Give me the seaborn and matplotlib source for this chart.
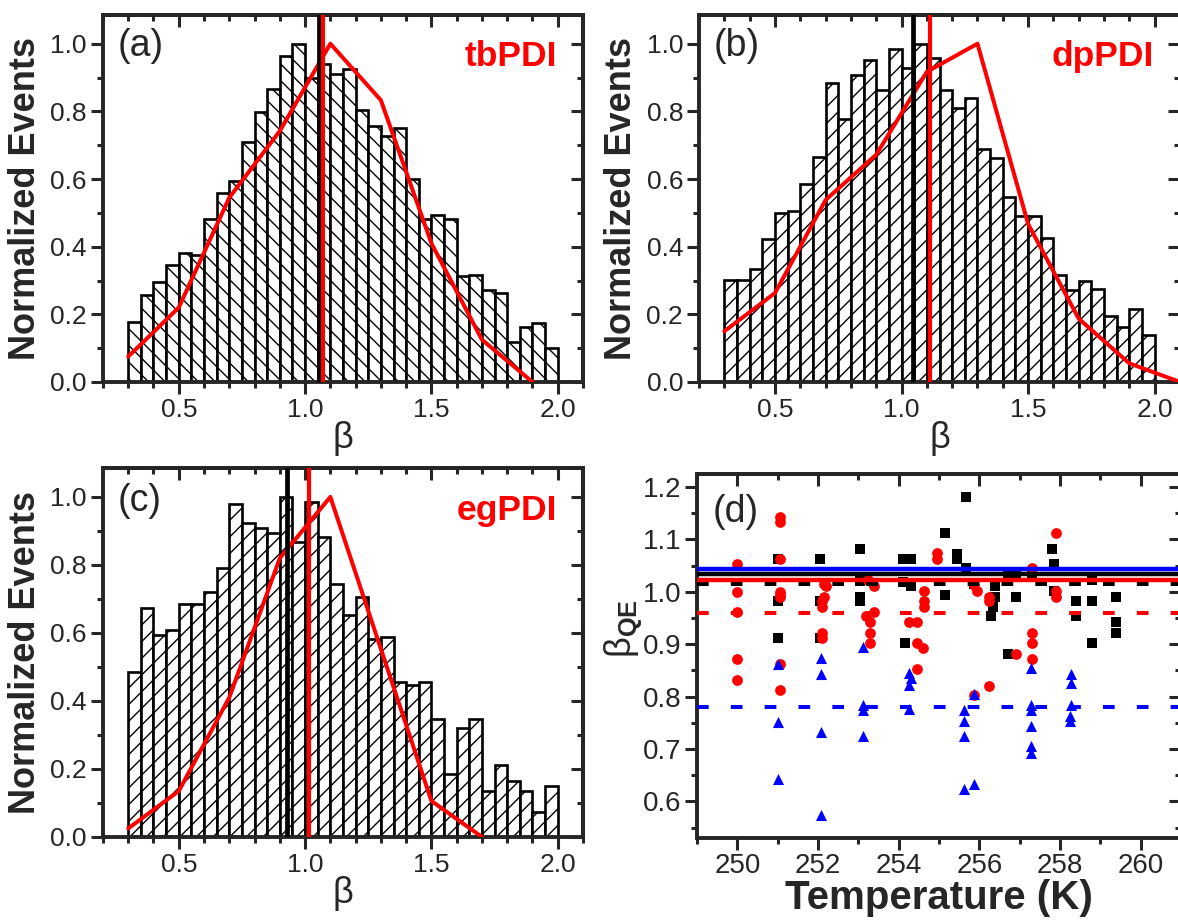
import numpy as np
import pandas as pd
import matplotlib
matplotlib.use("Agg")
import matplotlib.pyplot as plt
from matplotlib.ticker import MultipleLocator
import seaborn as sns

# ---------------- data ----------------
bin_lo, bin_hi, n_bins = 0.30, 2.00, 34

hist_a = [0.177, 0.256, 0.295, 0.347, 0.381, 0.374, 0.482, 0.559, 0.595, 0.708,
          0.798, 0.867, 0.964, 1.000, 0.898, 0.941, 0.910, 0.924, 0.803, 0.757,
          0.726, 0.751, 0.599, 0.481, 0.493, 0.481, 0.313, 0.317, 0.271, 0.263,
          0.117, 0.162, 0.173, 0.099]
hist_b = [0.302, 0.302, 0.334, 0.423, 0.500, 0.504, 0.585, 0.664, 0.883, 0.777,
          0.907, 0.952, 0.862, 0.985, 0.929, 1.000, 0.957, 0.862, 0.809, 0.839,
          0.690, 0.661, 0.548, 0.491, 0.491, 0.427, 0.317, 0.271, 0.299, 0.274,
          0.195, 0.163, 0.217, 0.138]
hist_c = [0.485, 0.673, 0.595, 0.609, 0.685, 0.685, 0.721, 0.791, 0.978, 0.923,
          0.908, 0.895, 1.000, 0.866, 0.986, 0.881, 0.743, 0.653, 0.707, 0.581,
          0.589, 0.456, 0.447, 0.456, 0.346, 0.184, 0.319, 0.346, 0.135, 0.212,
          0.165, 0.135, 0.074, 0.150]

fit_beta_a = [0.3, 0.5, 0.7, 0.9, 1.1, 1.3, 1.5, 1.7, 1.9]
fit_a = [0.075, 0.22, 0.545, 0.742, 1.0, 0.833, 0.41, 0.125, 0.0]
fit_beta_b = [0.3, 0.5, 0.7, 0.9, 1.1, 1.3, 1.5, 1.7, 1.9, 2.1]
fit_b = [0.15, 0.263, 0.538, 0.672, 0.917, 1.0, 0.467, 0.187, 0.055, 0.0]
fit_beta_c = [0.3, 0.5, 0.7, 0.9, 1.1, 1.3, 1.5, 1.7]
fit_c = [0.025, 0.135, 0.41, 0.82, 1.0, 0.553, 0.106, 0.0]

vline_black = {"a": 1.057, "b": 1.046, "c": 0.929}
vline_red = {"a": 1.070, "b": 1.112, "c": 1.014}
names = {"a": "tbPDI", "b": "dpPDI", "c": "egPDI"}

# panel (d)
sq_T = [251.0, 251.0, 251.0, 252.05, 252.05, 252.05, 253.05, 253.05, 253.05, 253.05,
        254.1, 254.3, 254.1, 254.3, 254.15, 255.15, 255.15, 255.45, 255.45, 255.68,
        255.68, 255.88, 256.4, 256.4, 256.35, 256.3, 256.7, 256.7, 256.9, 256.9,
        257.3, 257.8, 257.85, 257.85, 258.4, 258.4, 258.8, 258.8, 258.8, 259.4,
        259.4, 259.4]
sq_b = [1.062, 0.982, 0.912, 1.062, 0.982, 0.912, 1.081, 0.991, 0.982, 1.020,
        1.062, 1.062, 1.018, 1.011, 0.902, 1.113, 0.994, 1.072, 1.062, 1.182,
        1.045, 1.015, 1.011, 0.991, 0.972, 0.953, 0.882, 1.035, 0.991, 1.035,
        1.035, 1.081, 1.053, 1.002, 0.982, 0.953, 0.982, 0.902, 1.023, 0.991,
        0.942, 0.921]
ci_T = [250.0, 250.0, 250.0, 250.0, 250.0,
        251.05, 251.05, 251.07, 251.05, 251.05, 251.05, 251.05, 251.05,
        252.15, 252.2, 252.15, 252.1, 252.1, 252.1, 252.1,
        253.25, 253.4, 253.4, 253.2, 253.3, 253.3, 253.3,
        254.26, 254.45, 254.45, 254.45,
        254.63, 254.63, 254.63, 254.6,
        254.95, 254.95,
        255.88, 255.95, 255.88,
        256.25, 256.25, 256.25,
        256.9,
        257.3, 257.3, 257.3, 257.3,
        257.9, 257.9, 257.9]
ci_b = [1.053, 1.000, 0.961, 0.872, 0.831,
        1.142, 1.134, 1.062, 1.000, 0.994, 0.991, 0.863, 0.812,
        1.015, 1.011, 0.991, 0.982, 0.972, 0.921, 0.912,
        1.023, 1.011, 0.961, 0.953, 0.942, 0.921, 0.902,
        0.942, 0.942, 0.902, 0.852,
        1.002, 0.982, 0.972, 0.892,
        1.074, 1.062,
        1.013, 1.002, 0.803,
        0.991, 0.982, 0.821,
        0.882,
        1.045, 0.921, 0.902, 0.872,
        1.113, 1.002, 0.991]
tr_T = [251.02, 251.02, 251.02,
        252.08, 252.08, 252.08, 252.08,
        253.12, 253.12, 253.12, 253.12,
        254.26, 254.3, 254.26, 254.26,
        255.63, 255.63, 255.63, 255.63, 255.86, 255.86,
        257.27, 257.27, 257.27, 257.27, 257.27, 257.27,
        258.27, 258.27, 258.27, 258.25, 258.25]
tr_b = [0.863, 0.752, 0.643,
        0.874, 0.843, 0.733, 0.574,
        0.894, 0.783, 0.774, 0.724,
        0.845, 0.836, 0.823, 0.776,
        0.774, 0.753, 0.724, 0.624, 0.633, 0.804,
        0.855, 0.783, 0.774, 0.744, 0.705, 0.693,
        0.843, 0.825, 0.783, 0.763, 0.753]
mean_blue, mean_black, mean_red = 1.044, 1.035, 1.023
mean_black_dash, mean_red_dash, mean_blue_dash = 1.015, 0.960, 0.780

# ---------------- style ----------------
sns.set_style("ticks")
plt.rcParams["font.family"] = ["Liberation Sans", "DejaVu Sans"]
plt.rcParams["mathtext.fontset"] = "custom"
plt.rcParams["mathtext.rm"] = "Liberation Sans"
plt.rcParams["mathtext.it"] = "Liberation Sans:italic"
plt.rcParams["mathtext.bf"] = "Liberation Sans:bold"
plt.rcParams["hatch.linewidth"] = 1.0
plt.rcParams["hatch.color"] = "black"

RED = "#ff0000"
BLUE = "#0000ff"
SPINE_LW = 2.8
LABEL_FS = 26

fig = plt.figure(figsize=(11.78, 9.24), dpi=100)


def style_axes(ax, xmaj, xmin, ymaj, ymin, fs):
    for s in ax.spines.values():
        s.set_visible(True)
        s.set_linewidth(SPINE_LW)
    ax.xaxis.set_major_locator(MultipleLocator(xmaj))
    ax.xaxis.set_minor_locator(MultipleLocator(xmin))
    ax.yaxis.set_major_locator(MultipleLocator(ymaj))
    ax.yaxis.set_minor_locator(MultipleLocator(ymin))
    ax.tick_params(which="both", direction="out", width=2.2, labelsize=fs,
                   top=False, right=False, pad=3)
    ax.tick_params(which="major", length=8.5)
    ax.tick_params(which="minor", length=4.5)
    top = ax.secondary_xaxis("top")
    top.xaxis.set_major_locator(MultipleLocator(xmaj))
    top.xaxis.set_minor_locator(MultipleLocator(xmin))
    top.tick_params(which="both", direction="in", width=2.2, labeltop=False)
    top.tick_params(which="major", length=8.5)
    top.tick_params(which="minor", length=4.5)
    top.spines["top"].set_linewidth(SPINE_LW)
    right = ax.secondary_yaxis("right")
    right.yaxis.set_major_locator(MultipleLocator(ymaj))
    right.yaxis.set_minor_locator(MultipleLocator(ymin))
    right.tick_params(which="both", direction="in", width=2.2, labelright=False)
    right.tick_params(which="major", length=8.5)
    right.tick_params(which="minor", length=4.5)
    right.spines["right"].set_linewidth(SPINE_LW)


def hist_panel(rect, key, heights, fit_x, fit_y, hatch, tag_y, name_y):
    ax = fig.add_axes(rect)
    edges = np.linspace(bin_lo, bin_hi, n_bins + 1)
    centers = (edges[:-1] + edges[1:]) / 2
    df = pd.DataFrame({"beta": centers, "w": heights})
    sns.histplot(data=df, x="beta", weights="w", bins=n_bins,
                 binrange=(bin_lo, bin_hi), ax=ax,
                 stat="count", element="bars", fill=True, alpha=1,
                 color="white", edgecolor="black", linewidth=1.9)
    for p in ax.patches:
        p.set_facecolor("white")
        p.set_edgecolor("black")
        p.set_hatch(hatch)
        p.set_zorder(1)
    sns.lineplot(x=fit_x, y=fit_y, ax=ax, color=RED, linewidth=2.9, zorder=3)
    ax.axvline(vline_black[key], color="black", linewidth=3.4, zorder=4)
    ax.axvline(vline_red[key], color=RED, linewidth=3.0, zorder=5)
    ax.set_xlim(0.2, 2.1)
    ax.set_ylim(0.0, 1.085)
    style_axes(ax, 0.5, 0.1, 0.2, 0.1, 19)
    ax.set_xlabel("β", fontsize=LABEL_FS)
    ax.set_ylabel("Normalized Events", fontsize=LABEL_FS, fontweight="bold")
    ax.yaxis.set_label_coords(-0.125, 0.5)
    ax.xaxis.set_label_coords(0.5, -0.105)
    ax.text(0.03, tag_y, f"({key})", transform=ax.transAxes, fontsize=27,
            ha="left", va="top")
    ax.text(0.946, name_y, names[key], transform=ax.transAxes, fontsize=25.5,
            fontweight="bold", color=RED, ha="right", va="baseline")
    return ax


ax_a = hist_panel([0.0874, 0.5866, 0.4075, 0.3972], "a", hist_a,
                  fit_beta_a, fit_a, "\\\\", 0.965, 0.86)
ax_b = hist_panel([0.5934, 0.5866, 0.4083, 0.3972], "b", hist_b,
                  fit_beta_b, fit_b, "//", 0.965, 0.86)
ax_c = hist_panel([0.0874, 0.0942, 0.4075, 0.3993], "c", hist_c,
                  fit_beta_c, fit_c, "//", 0.96, 0.86)

# ---------------- panel (d) ----------------
ax_d = fig.add_axes([0.5917, 0.0931, 0.4108, 0.3939])
sns.scatterplot(x=sq_T, y=sq_b, ax=ax_d, marker="s", s=45, color="black",
                linewidth=0, zorder=2)
sns.scatterplot(x=ci_T, y=ci_b, ax=ax_d, marker="o", s=60, color=RED,
                linewidth=0, zorder=3)
sns.scatterplot(x=tr_T, y=tr_b, ax=ax_d, marker="^", s=64, color=BLUE,
                linewidth=0, zorder=4)
dash = (0, (2.9, 5.5))
ax_d.axhline(mean_black_dash, color="black", linewidth=2.9, linestyle=dash, zorder=5)
ax_d.axhline(mean_red_dash, color=RED, linewidth=2.9, linestyle=dash, zorder=5)
ax_d.axhline(mean_blue_dash, color=BLUE, linewidth=2.9, linestyle=dash, zorder=5)
ax_d.axhline(mean_blue, color=BLUE, linewidth=3.2, zorder=6)
ax_d.axhline(mean_black, color="black", linewidth=3.2, zorder=6)
ax_d.axhline(mean_red, color=RED, linewidth=3.2, zorder=7)
ax_d.set_xlim(249, 261)
ax_d.set_ylim(0.53, 1.225)
style_axes(ax_d, 2, 1, 0.1, 0.05, 20)
ax_d.tick_params(axis="x", pad=2)
ax_d.set_xlabel("Temperature (K)", fontsize=29, fontweight="bold")
ax_d.xaxis.set_label_coords(0.5, -0.112)
ax_d.set_ylabel(r"$\mathregular{β}_{\mathbf{QE}}$", fontsize=LABEL_FS)
ax_d.yaxis.set_label_coords(-0.11, 0.575)
ax_d.text(0.033, 0.945, "(d)", transform=ax_d.transAxes, fontsize=27,
          ha="left", va="top")

fig.savefig("out.png", dpi=100)
